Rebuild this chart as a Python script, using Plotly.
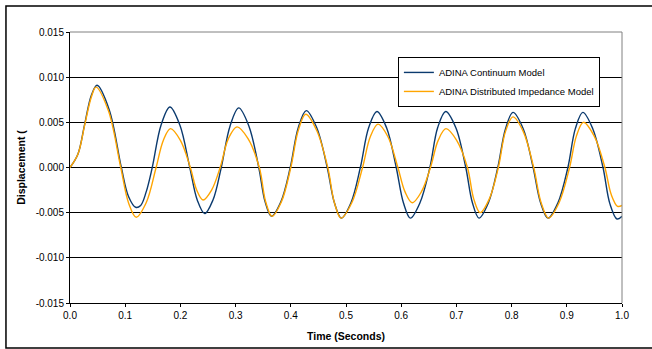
import plotly.graph_objects as go

# Continuum model (time s, displacement)
t_cont = [0.000, 0.0145, 0.0266, 0.0387, 0.049, 0.071, 0.093, 0.106, 0.119, 0.128, 0.138, 0.149,
          0.165, 0.181, 0.199, 0.217, 0.2305, 0.244, 0.259, 0.274, 0.290, 0.3056, 0.324, 0.342,
          0.3535, 0.365, 0.382, 0.399, 0.4135, 0.428, 0.447, 0.466, 0.479, 0.4916, 0.509, 0.526,
          0.541, 0.556, 0.5735, 0.591, 0.604, 0.6166, 0.634, 0.652, 0.666, 0.6806, 0.699, 0.717,
          0.729, 0.741, 0.758, 0.775, 0.789, 0.8025, 0.821, 0.839, 0.8525, 0.866, 0.884, 0.902,
          0.9155, 0.929, 0.947, 0.9656, 0.978, 0.991, 1.000]
d_cont = [0.0000, 0.0015, 0.0048, 0.0080, 0.0091, 0.0064, 0.0000, -0.0032, -0.0044, -0.0042, -0.0027, 0.0000,
          0.0047, 0.0067, 0.0047, 0.0000, -0.0036, -0.0051, -0.0036, 0.0000, 0.0046, 0.0066, 0.0046, 0.0000,
          -0.0038, -0.0054, -0.0038, 0.0000, 0.0044, 0.0063, 0.0044, 0.0000, -0.0039, -0.0056, -0.0039, 0.0000,
          0.0044, 0.0062, 0.0044, 0.0000, -0.0039, -0.0056, -0.0039, 0.0000, 0.0044, 0.0062, 0.0044, 0.0000,
          -0.0039, -0.0056, -0.0039, 0.0000, 0.0043, 0.0061, 0.0043, 0.0000, -0.0039, -0.0056, -0.0039, 0.0000,
          0.0043, 0.0061, 0.0043, 0.0000, -0.0040, -0.0057, -0.0054]

# Distributed impedance model
t_imp = [0.000, 0.0145, 0.0266, 0.0387, 0.047, 0.0695, 0.092, 0.106, 0.120, 0.138, 0.156,
         0.169, 0.182, 0.200, 0.218, 0.2295, 0.241, 0.2565, 0.272, 0.287, 0.3025, 0.3225, 0.343,
         0.3545, 0.366, 0.383, 0.400, 0.4135, 0.427, 0.447, 0.467, 0.479, 0.491, 0.5105, 0.530,
         0.544, 0.558, 0.576, 0.594, 0.607, 0.620, 0.6365, 0.653, 0.667, 0.681, 0.7005, 0.720,
         0.7315, 0.743, 0.7595, 0.776, 0.789, 0.8025, 0.821, 0.840, 0.8535, 0.867, 0.886, 0.905,
         0.9175, 0.930, 0.9495, 0.969, 0.9805, 0.992, 1.000]
d_imp = [0.0000, 0.0015, 0.0047, 0.0078, 0.0089, 0.0063, 0.0000, -0.0039, -0.0055, -0.0039, 0.0000,
         0.0030, 0.0043, 0.0030, 0.0000, -0.0025, -0.0036, -0.0025, 0.0000, 0.0032, 0.0045, 0.0032, 0.0000,
         -0.0038, -0.0054, -0.0038, 0.0000, 0.0041, 0.0059, 0.0041, 0.0000, -0.0039, -0.0056, -0.0039, 0.0000,
         0.0034, 0.0048, 0.0034, 0.0000, -0.0027, -0.0039, -0.0027, 0.0000, 0.0030, 0.0043, 0.0030, 0.0000,
         -0.0035, -0.0050, -0.0035, 0.0000, 0.0040, 0.0056, 0.0040, 0.0000, -0.0039, -0.0056, -0.0039, 0.0000,
         0.0035, 0.0050, 0.0035, 0.0000, -0.0030, -0.0043, -0.0042]

x_ticks = [0.0, 0.1, 0.2, 0.3, 0.4, 0.5, 0.6, 0.7, 0.8, 0.9, 1.0]
y_ticks = [-0.015, -0.010, -0.005, 0.000, 0.005, 0.010, 0.015]

FONT = "Liberation Sans, Arial, sans-serif"

fig = go.Figure()
fig.add_trace(go.Scatter(x=t_cont, y=d_cont, mode="lines", name="ADINA Continuum Model",
                         line=dict(color="#0B3A6E", width=1.4, shape="spline", smoothing=1.0)))
fig.add_trace(go.Scatter(x=t_imp, y=d_imp, mode="lines", name="ADINA Distributed Impedance Model",
                         line=dict(color="#FFA500", width=1.4, shape="spline", smoothing=1.0)))

fig.update_layout(
    width=652, height=349,
    margin=dict(l=70, r=30, t=32, b=46),
    paper_bgcolor="white", plot_bgcolor="white",
    font=dict(family=FONT, size=10, color="black"),
    showlegend=True,
    legend=dict(x=0.594, y=0.908, xanchor="left", yanchor="top",
                bgcolor="white", bordercolor="black", borderwidth=1,
                font=dict(family=FONT, size=9.5, color="black"),
                tracegroupgap=0, itemwidth=30),
    xaxis=dict(range=[0, 1], tickvals=x_ticks, ticktext=[f"{v:.1f}" for v in x_ticks],
               showgrid=False, zeroline=False, showline=True, linecolor="black", linewidth=1,
               ticks="outside", ticklen=3, tickcolor="black", tickfont=dict(size=10)),
    yaxis=dict(range=[-0.015, 0.015], tickvals=y_ticks, ticktext=[f"{v:.3f}" for v in y_ticks],
               showgrid=True, gridcolor="black", gridwidth=1, zeroline=False,
               showline=True, linecolor="black", linewidth=1,
               ticks="outside", ticklen=3, tickcolor="black", tickfont=dict(size=10)),
    annotations=[
        dict(text="<b>Time (Seconds)</b>", xref="paper", yref="paper", x=0.5, y=-0.12,
             xanchor="center", yanchor="middle", showarrow=False, font=dict(size=10.5)),
        dict(text="<b>Displacement (</b>", xref="paper", yref="paper", x=-0.09, y=0.5,
             xanchor="center", yanchor="middle", textangle=-90, showarrow=False, font=dict(size=10.5)),
    ],
    shapes=[
        # gray plot-area border top and right
        dict(type="line", xref="paper", yref="paper", x0=0, x1=1, y0=1, y1=1,
             line=dict(color="#808080", width=1)),
        dict(type="line", xref="paper", yref="paper", x0=1, x1=1, y0=0, y1=1,
             line=dict(color="#808080", width=1)),
        # outer chart frame (right edge runs off the canvas)
        dict(type="rect", xref="paper", yref="paper", x0=-0.116, x1=1.08, y0=-0.166, y1=1.096,
             line=dict(color="black", width=1.5), fillcolor="rgba(0,0,0,0)", layer="below"),
    ],
)

fig.write_html("out.html")
